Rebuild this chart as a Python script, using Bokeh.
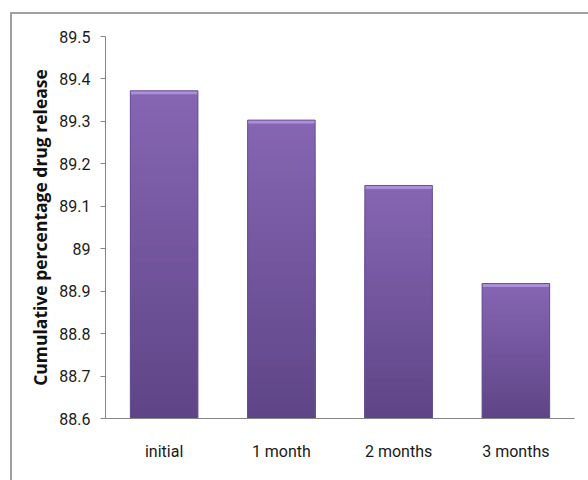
import numpy as np
from bokeh.plotting import figure
from bokeh.models import ColumnDataSource, FactorRange, Range1d, FixedTicker
from bokeh.embed import file_html
from bokeh.resources import INLINE

# Cumulative drug release over storage time
periods = ["initial", "1 month", "2 months", "3 months"]
release = [89.372, 89.303, 89.149, 88.918]

y_ticks = [88.6, 88.7, 88.8, 88.9, 89.0, 89.1, 89.2, 89.3, 89.4, 89.5]
y_tick_labels = ["88.6", "88.7", "88.8", "88.9", "89", "89.1", "89.2", "89.3", "89.4", "89.5"]
y_min, y_max = 88.6, 89.5

BAR_WIDTH = 0.575
N_SLICES = 40
COLOR_BOTTOM = np.array([0x5E, 0x45, 0x86])
COLOR_TOP = np.array([0x86, 0x66, 0xB3])
HIGHLIGHT = 0.008  # height of the light bevel on the bar tops, in data units
TICK_FONT = "Roboto"


def hex_color(rgb):
    r, g, b = (int(round(c)) for c in rgb)
    return f"#{r:02x}{g:02x}{b:02x}"


# vertical gradient: nested bars from the base, tallest first, each a bit lighter
xs, tops, colors = [], [], []
for k in reversed(range(N_SLICES)):
    t = (k + 0.5) / N_SLICES
    for cat, val in zip(periods, release):
        xs.append(cat)
        tops.append(y_min + (val - y_min) * (k + 1) / N_SLICES)
        colors.append(hex_color(COLOR_BOTTOM + (COLOR_TOP - COLOR_BOTTOM) * t))
slices = ColumnDataSource(dict(x=xs, top=tops, bottom=[y_min] * len(xs), color=colors))

bars = ColumnDataSource(dict(
    x=periods,
    top=release,
    hl_bottom=[v - HIGHLIGHT for v in release],
    bottom=[y_min] * len(release),
))

p = figure(
    width=578, height=468,
    x_range=FactorRange(*periods, range_padding=0),
    y_range=Range1d(y_min, y_max),
    output_backend="svg", toolbar_location=None,
    min_border_left=93, min_border_right=16,
    min_border_top=22, min_border_bottom=64,
)
# outer chart border, open on the right and bottom
p.margin = (12, 0, 0, 10)
p.styles = {
    "border-top": "2px solid #a0a0a0",
    "border-left": "2px solid #a0a0a0",
    "box-sizing": "border-box",
}
p.background_fill_color = "white"
p.border_fill_color = "white"
p.outline_line_color = None
p.grid.visible = False

# soft shadow to the right of each bar
p.vbar(x="x", top="top", bottom="bottom", width=BAR_WIDTH + 0.012, source=bars,
       fill_color="#dadada", line_color=None)
# gradient body
p.vbar(x="x", top="top", bottom="bottom", width=BAR_WIDTH, source=slices,
       fill_color="color", line_color=None)
# bevel highlight on top
p.vbar(x="x", top="top", bottom="hl_bottom", width=BAR_WIDTH, source=bars,
       fill_color="#ab8fd8", line_color=None)
# thin darker outline
p.vbar(x="x", top="top", bottom="bottom", width=BAR_WIDTH, source=bars,
       fill_color=None, line_color="#6a5196", line_width=1)

yax = p.yaxis[0]
yax.ticker = FixedTicker(ticks=y_ticks)
yax.major_label_overrides = {t: s for t, s in zip(y_ticks, y_tick_labels)}
yax.axis_line_color = "#868686"
yax.major_tick_line_color = "#868686"
yax.major_tick_out = 5
yax.major_tick_in = 0
yax.minor_tick_line_color = None
yax.major_label_standoff = 10
yax.major_label_text_font = TICK_FONT
yax.major_label_text_font_size = "16px"
yax.major_label_text_color = "#1a1a1a"
yax.axis_label = "Cumulative percentage drug release"
yax.axis_label_text_font = "Open Sans"
yax.axis_label_text_font_style = "bold"
yax.axis_label_text_font_size = "17.5px"
yax.axis_label_text_color = "#111111"
yax.axis_label_standoff = 4

xax = p.xaxis[0]
xax.axis_line_color = "#868686"
xax.major_tick_line_color = None
xax.minor_tick_line_color = None
xax.major_label_standoff = 17
xax.major_label_text_font = TICK_FONT
xax.major_label_text_font_size = "16px"
xax.major_label_text_color = "#1a1a1a"

open("out.html", "w").write(file_html(p, INLINE))
